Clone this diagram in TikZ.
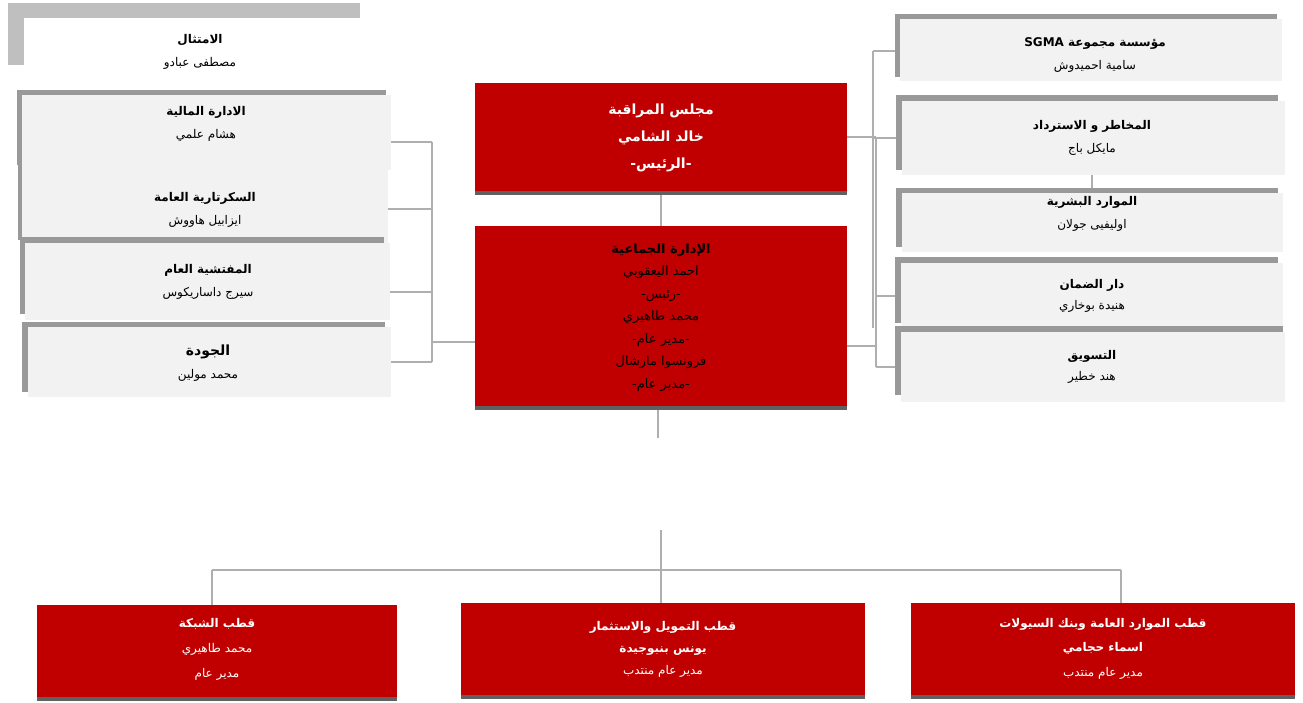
\documentclass[tikz,border=0pt]{standalone}
\usepackage{fontspec}
\newfontfamily\arabicfont[Script=Arabic]{DejaVu Sans}
\TeXXeTstate=1
\usetikzlibrary{calc}
\definecolor{ourred}{HTML}{C00000}
\definecolor{boxgray}{HTML}{F2F2F2}
\definecolor{shadowgray}{HTML}{999999}
\definecolor{shadowlight}{HTML}{BFBFBF}
\definecolor{bargray}{HTML}{606060}
\definecolor{linegray}{HTML}{AFAFAF}
\newcommand\artxt[1]{\beginR #1\endR}
\pgfdeclarelayer{bg}
\pgfsetlayers{bg,main}
\begin{document}
\begin{tikzpicture}[x=1pt,y=-1pt,
  gbox/.style={fill=boxgray, inner sep=0pt, draw=none},
  wbox/.style={fill=white, inner sep=0pt, draw=none},
  rbox/.style={fill=ourred, inner sep=0pt, draw=none},
  gtext/.style={align=center, inner sep=0pt, text=black, font=\arabicfont\fontsize{12}{23}\selectfont},
  ctext/.style={align=center, inner sep=0pt, font=\arabicfont\fontsize{14}{27}\selectfont},
  btext/.style={align=center, inner sep=0pt, text=white, font=\arabicfont\fontsize{12}{25}\selectfont},
  shadowbar/.style={fill=shadowgray},
  conn/.style={draw=linegray, line width=1.3pt}
]
\useasboundingbox (0,0) rectangle (1303,702);

% ---------- left column ----------
\fill[shadowlight] (8,3) rectangle (360,65);
\node[wbox, minimum width=352pt, minimum height=62pt] (l0) at (200,49) {};
\node[gtext] (l0t) at (200,52) {{\bfseries\artxt{الامتثال}}\\\artxt{مصطفى عبادو}};

\fill[shadowbar] (17,90) rectangle (386,165);
\fill[shadowbar] (18,165) rectangle (384,240);
\node[gbox, minimum width=369pt, minimum height=75pt] (l1) at (206.5,132.5) {};
\node[gtext] (l1t) at (206,124) {{\bfseries\artxt{الادارة المالية}}\\\artxt{هشام علمي}};
\node[gbox, minimum width=366pt, minimum height=73pt] (l2) at (205,206.5) {};
\node[gtext] (l2t) at (205,210) {{\bfseries\artxt{السكرتارية العامة}}\\\artxt{ايزابيل هاووش}};

\fill[shadowbar] (20,237) rectangle (384,314);
\node[gbox, minimum width=365pt, minimum height=77pt] (l3) at (207.5,281.5) {};
\node[gtext] (l3t) at (208,281.5) {{\bfseries\artxt{المفتشية العام}}\\\artxt{سيرج داساريكوس}};

\fill[shadowbar] (22,322) rectangle (385,392);
\node[gbox, minimum width=363pt, minimum height=70pt] (l4) at (209.5,362) {};
\node[gtext] (l4t) at (208,363) {{\fontsize{14}{23}\selectfont\bfseries\artxt{الجودة}}\\\artxt{محمد مولين}};

% ---------- centre column ----------
\fill[bargray] (475,83) rectangle (847,195);
\node[rbox, minimum width=372pt, minimum height=108pt] (c1) at (661,137) {};
\node[ctext, text=white] (c1t) at (661,137.5) {\bfseries\artxt{مجلس المراقبة}\\\bfseries\artxt{خالد الشامي}\\\bfseries\artxt{-الرئيس-}};

\fill[bargray] (475,226) rectangle (847,410);
\node[rbox, minimum width=372pt, minimum height=180pt] (c2) at (661,316) {};
\node[ctext, text=black, font=\arabicfont\fontsize{13}{22.5}\selectfont] (c2t) at (661,317.5) {{\bfseries\artxt{الإدارة الجماعية}}\\\artxt{احمد اليعقوبي}\\\artxt{-رئيس-}\\\artxt{محمد طاهيري}\\\artxt{-مدير عام-}\\\artxt{فرونسوا مارشال}\\\artxt{-مدير عام-}};

% ---------- right column ----------
\fill[shadowbar] (895,14) rectangle (1277,77);
\node[gbox, minimum width=382pt, minimum height=62pt] (r1) at (1091,50) {};
\node[gtext] (r1t) at (1095,55) {{\bfseries\artxt{مؤسسة مجموعة \beginL SGMA\endL}}\\\artxt{سامية احميدوش}};

\fill[shadowbar] (896,95) rectangle (1278,170);
\node[gbox, minimum width=383pt, minimum height=74pt] (r2) at (1093.5,138) {};
\node[gtext] (r2t) at (1092,138) {{\bfseries\artxt{المخاطر و الاسترداد}}\\\artxt{مايكل باج}};

\fill[shadowbar] (896,188) rectangle (1278,247);
\node[gbox, minimum width=381pt, minimum height=59pt] (r3) at (1092.5,222.5) {};
\node[gtext] (r3t) at (1092,214) {{\bfseries\artxt{الموارد البشرية}}\\\artxt{اوليفيى  جولان}};

\fill[shadowbar] (895,257) rectangle (1278,323);
\node[gbox, minimum width=382pt, minimum height=67pt] (r4) at (1092,296.5) {};
\node[gtext, font=\arabicfont\fontsize{12}{21}\selectfont] (r4t) at (1092,296) {{\bfseries\artxt{دار الضمان}}\\\artxt{هنيدة بوخاري}};

\fill[shadowbar] (895,326) rectangle (1283,395);
\node[gbox, minimum width=384pt, minimum height=70pt] (r5) at (1093,367) {};
\node[gtext, font=\arabicfont\fontsize{12}{21}\selectfont] (r5t) at (1092,367) {{\bfseries\artxt{التسويق}}\\\artxt{هند خطير}};

% ---------- bottom row ----------
\fill[bargray] (37,605) rectangle (397,701);
\node[rbox, minimum width=360pt, minimum height=92pt] (b1) at (217,651) {};
\node[btext] (b1t) at (217,649.5) {{\bfseries\artxt{قطب الشبكة}}\\\artxt{محمد طاهيري}\\\artxt{مدير عام}};

\fill[bargray] (461,603) rectangle (865,699);
\node[rbox, minimum width=404pt, minimum height=92pt] (b2) at (663,649) {};
\node[btext, font=\arabicfont\fontsize{12}{22}\selectfont] (b2t) at (663,649) {{\bfseries\artxt{قطب التمويل والاستثمار}}\\{\bfseries\artxt{يونس بنبوجيدة}}\\\artxt{مدير عام منتدب}};

\fill[bargray] (911,603) rectangle (1295,699);
\node[rbox, minimum width=384pt, minimum height=92pt] (b3) at (1103,649) {};
\node[btext, font=\arabicfont\fontsize{12}{24.5}\selectfont] (b3t) at (1103,648.5) {{\bfseries\artxt{قطب الموارد العامة وبنك السيولات}}\\{\bfseries\artxt{اسماء حجامي}}\\\artxt{مدير عام منتدب}};

% ---------- connectors ----------
\coordinate (lb1) at (432,142);
\coordinate (lb2) at (432,209);
\coordinate (lb3) at (432,292);
\coordinate (lb4) at (432,362);
\coordinate (lbc) at (432,342);
\coordinate (ra1) at (873,51);
\coordinate (ra2) at (873,138);
\coordinate (ra3) at (873,328);
\coordinate (rb1) at (876,137);
\coordinate (rb4) at (876,296);
\coordinate (rbc) at (876,346);
\coordinate (rb5) at (876,367);
\coordinate (rr) at (1092,188);
\coordinate (j0) at (658,438);
\coordinate (j1) at (661,530);
\coordinate (j2) at (661,570);
\coordinate (h1) at (212,570);
\coordinate (h3) at (1121,570);

\begin{pgfonlayer}{bg}
\draw[conn] (c1.south) -- (c2.north);
% left bus
\draw[conn] (lb1) -- (lb4);
\draw[conn] (l1.east |- lb1) -- (lb1);
\draw[conn] (l2.east |- lb2) -- (lb2);
\draw[conn] (l3.east |- lb3) -- (lb3);
\draw[conn] (l4.east |- lb4) -- (lb4);
\draw[conn] (c2.west |- lbc) -- (lbc);
% right buses
\draw[conn] (ra1) -- (ra3);
\draw[conn] (rb1) -- (rb5);
\draw[conn] (c1.east |- rb1) -- (rb1);
\draw[conn] (ra1) -- (r1.west |- ra1);
\draw[conn] (ra2) -- (r2.west |- ra2);
\draw[conn] (rb4) -- (r4.west |- rb4);
\draw[conn] (c2.east |- rbc) -- (rbc);
\draw[conn] (rb5) -- (r5.west |- rb5);
\draw[conn] (r2.south -| rr) -- (rr);
% bottom
\draw[conn] (c2.south -| j0) -- (j0);
\draw[conn] (j1) -- (j2);
\draw[conn] (h1) -- (h3);
\draw[conn] (h1) -- (b1.north -| h1);
\draw[conn] (j2) -- (b2.north -| j2);
\draw[conn] (h3) -- (b3.north -| h3);
\end{pgfonlayer}
\end{tikzpicture}
\end{document}
